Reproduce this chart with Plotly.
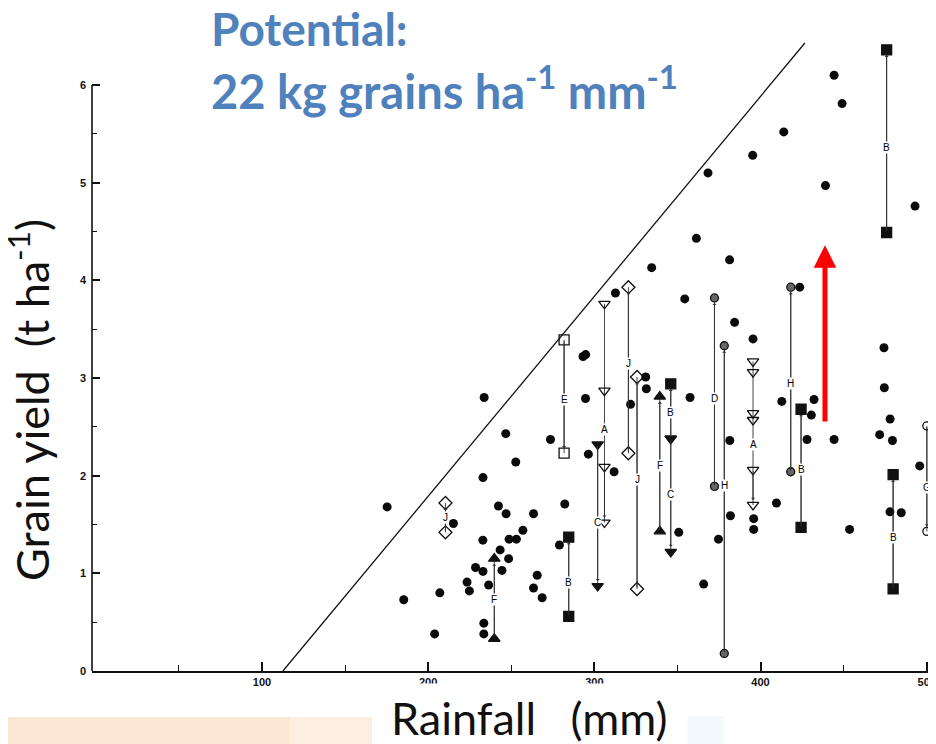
import plotly.graph_objects as go

# ---------------- data ----------------
# individual observations (filled dots): rainfall (mm), grain yield (t/ha)
dot_rain = [175.3, 185.3, 203.9, 207.0, 215.2, 223.4, 224.8, 228.5, 233.0, 232.9,
            233.0, 233.7, 233.5, 233.5, 236.4, 242.3, 243.3, 244.4, 246.9, 246.7,
            248.4, 248.7, 253.1, 252.7, 257.0, 263.4, 265.6, 263.4, 268.6, 273.6,
            279.0, 282.2, 293.2, 294.8, 294.7, 296.4, 311.9, 312.7, 321.8, 330.9,
            331.3, 334.5, 350.8, 354.4, 357.6, 361.4, 365.8, 368.4, 374.7, 381.5,
            381.9, 381.4, 384.4, 395.5, 395.3, 395.9, 395.9, 409.6, 412.8, 414.0,
            423.6, 428.0, 430.6, 432.2, 439.1, 444.3, 444.3, 449.1, 453.6, 471.7,
            474.3, 474.5, 478.0, 477.9, 479.4, 484.7, 493.0, 495.8]
dot_yield = [1.68, 0.73, 0.38, 0.80, 1.51, 0.91, 0.82, 1.06, 1.02, 1.34,
             1.98, 2.80, 0.49, 0.38, 0.88, 1.69, 1.24, 1.03, 1.61, 2.43,
             1.15, 1.35, 1.35, 2.14, 1.44, 1.61, 0.98, 0.85, 0.75, 2.37,
             1.29, 1.71, 3.22, 3.24, 2.79, 2.22, 2.04, 3.87, 2.73, 3.01,
             2.89, 4.13, 1.42, 3.81, 2.80, 4.43, 0.89, 5.10, 1.35, 2.36,
             1.59, 4.21, 3.57, 3.40, 5.28, 1.56, 1.45, 1.72, 2.76, 5.52,
             3.93, 2.37, 2.62, 2.78, 4.97, 2.37, 6.10, 5.81, 1.45, 2.42,
             3.31, 2.90, 2.58, 1.63, 2.36, 1.62, 4.76, 2.10]

# paired treatments (start -> end), letter codes
pair_letters = ["J", "F", "E", "B", "A", "C", "J", "J", "F", "B",
                "C", "D", "H", "A", "H", "B", "B", "B", "G"]
pair_rain = [210.4, 239.8, 281.8, 284.6, 306.1, 302.0, 320.5, 325.7, 339.4, 346.0,
             346.0, 372.3, 378.2, 395.5, 418.2, 424.4, 475.9, 479.8, 500.1]
pair_yields = [[1.42, 1.72], [0.33, 1.15], [3.39, 2.23], [0.56, 1.37],
               [3.76, 2.87, 2.09, 1.52], [2.32, 0.87], [2.23, 3.93], [0.84, 3.01],
               [1.43, 2.81], [2.38, 2.94], [2.38, 1.22], [1.89, 3.82], [0.18, 3.33],
               [3.17, 3.06, 2.64, 2.57, 2.06, 1.70], [2.04, 3.93], [1.47, 2.68],
               [4.49, 6.36], [0.84, 2.01], [2.51, 1.43]]
pair_symbols = [["diamond-open"] * 2, ["triangle-up"] * 2, ["square-open"] * 2,
                ["square"] * 2, ["triangle-down-open"] * 4, ["triangle-down"] * 2,
                ["diamond-open"] * 2, ["diamond-open"] * 2, ["triangle-up"] * 2,
                ["triangle-down", "square"], ["triangle-down"] * 2, ["circle"] * 2,
                ["circle"] * 2, ["triangle-down-open"] * 6, ["circle"] * 2,
                ["square"] * 2, ["square"] * 2, ["square"] * 2, ["circle-open"] * 2]
pair_label_y = [1.57, 0.73, 2.78, 0.91, 2.47, 1.52, 3.15, 1.96, 2.10, 2.65,
                1.81, 2.79, 1.90, 2.32, 2.94, 2.06, 5.36, 1.37, 1.88]

# potential (boundary) line
boundary_rain = [112.6, 426.7]
boundary_yield = [0.0, 6.43]

# red arrow
arrow_rain = 438.8
arrow_from = 2.54
arrow_to = 4.36

x_ticks = [100, 200, 300, 400, 500]
x_minor = [50, 150, 250, 350, 450]
y_ticks = [0, 1, 2, 3, 4, 5, 6]
y_minor = [0.5, 1.5, 2.5, 3.5, 4.5, 5.5]

title_line1 = "Potential:"
title_line2 = "22 kg grains ha<sup>-1</sup> mm<sup>-1</sup>"
y_title = "Grain yield\u00a0 (t ha<sup>-1</sup>)"
x_title = "Rainfall\u00a0\u00a0 (mm)"

# ---------------- figure ----------------
# the page draws the figure 8 px in from the top-left corner of the window
OFF = 8
W, H = 936 - OFF, 744 - OFF
L, R, T, B = 92 - OFF, 4, 10 - OFF, 73
pw, ph = W - L - R, H - T - B


def px(xp):
    """window pixel x -> paper x"""
    return (xp - OFF - L) / pw


def py(yp):
    """window pixel y -> paper y"""
    return (H - B - (yp - OFF)) / ph


fig = go.Figure()

# boundary line
fig.add_trace(go.Scatter(x=boundary_rain, y=boundary_yield, mode="lines",
                         line=dict(color="#111", width=1.3), hoverinfo="skip"))

# paired treatment lines + markers
annotations = []
for letter, xr, ys, syms, ly in zip(pair_letters, pair_rain, pair_yields,
                                     pair_symbols, pair_label_y):
    is_half = letter in ("D", "H")
    is_circ = letter in ("D", "H", "G")
    fig.add_trace(go.Scatter(
        x=[xr] * len(ys), y=ys, mode="lines+markers",
        line=dict(color="#444", width=1),
        marker=dict(symbol=syms, size=8 if is_circ else 10,
                    color="#666" if is_half else "#111",
                    line=dict(color="#111", width=1.3)),
        hoverinfo="skip"))
    annotations.append(dict(
        x=xr, y=ys[-1], ax=xr, ay=ys[-2], xref="x", yref="y",
        axref="x", ayref="y", showarrow=True, arrowhead=1, arrowsize=0.7,
        arrowwidth=1, arrowcolor="#333", standoff=5, text=""))
    annotations.append(dict(
        x=xr, y=ly, xref="x", yref="y", text=letter, showarrow=False,
        font=dict(family="Liberation Sans", size=10, color="black"),
        bgcolor="white", borderpad=0))

# filled dots
fig.add_trace(go.Scatter(x=dot_rain, y=dot_yield, mode="markers",
                         marker=dict(symbol="circle", size=9, color="#0a0a0a"),
                         hoverinfo="skip"))

# red arrow
annotations.append(dict(
    x=arrow_rain, y=arrow_to, ax=arrow_rain, ay=arrow_from, xref="x", yref="y",
    axref="x", ayref="y", showarrow=True, arrowhead=2, arrowsize=0.9,
    arrowwidth=5, arrowcolor="#FF0000", text=""))

slide_font = "Lato"
annotations += [
    # white text box of the x title, hiding the lower part of two tick labels
    dict(x=px(372), y=py(683), xref="paper", yref="paper", xanchor="left",
         yanchor="top", text=" ", showarrow=False, width=314, height=61,
         bgcolor="white", borderpad=0),
    dict(x=px(209), y=py(28), xref="paper", yref="paper", xanchor="left",
         yanchor="middle", text=f"<b>{title_line1}</b>", showarrow=False,
         font=dict(family=slide_font, size=46, color="#4F81BD")),
    dict(x=px(209), y=py(88), xref="paper", yref="paper", xanchor="left",
         yanchor="middle", text=f"<b>{title_line2}</b>", showarrow=False,
         font=dict(family=slide_font, size=47, color="#4F81BD")),
    dict(x=px(29), y=py(400), xref="paper", yref="paper", xanchor="center",
         yanchor="middle", text=y_title, textangle=-90, showarrow=False,
         font=dict(family=slide_font, size=45, color="#111")),
    dict(x=px(529), y=py(718), xref="paper", yref="paper", xanchor="center",
         yanchor="middle", text=x_title, showarrow=False,
         font=dict(family=slide_font, size=45, color="#111")),
]

shapes = [
    # y axis line up to 6
    dict(type="line", xref="paper", yref="y", x0=0, x1=0, y0=0, y1=6,
         line=dict(color="#111", width=1.6)),
    # peach slide decoration bottom-left
    dict(type="rect", xref="paper", yref="paper", x0=px(0), x1=px(290),
         y0=py(744), y1=py(717), fillcolor="#FDE9D3", line=dict(width=0),
         layer="below"),
    dict(type="rect", xref="paper", yref="paper", x0=px(290), x1=px(372),
         y0=py(744), y1=py(717), fillcolor="#FCEFE2", line=dict(width=0),
         layer="below"),
    dict(type="rect", xref="paper", yref="paper", x0=px(686), x1=px(724),
         y0=py(744), y1=py(716), fillcolor="#F3F8FD", line=dict(width=0),
         layer="below"),
]

fig.update_layout(
    width=W, height=H, margin=dict(l=L, r=R, t=T, b=B, autoexpand=False),
    paper_bgcolor="white", plot_bgcolor="white", showlegend=False,
    annotations=annotations, shapes=shapes,
    xaxis=dict(range=[-2.3, 503.2], tickvals=x_ticks, ticks="inside",
               automargin=False,
               ticklen=9, tickwidth=1.5, tickcolor="#111",
               showline=True, linecolor="#111", linewidth=1.6,
               showgrid=False, zeroline=False,
               tickfont=dict(family="Liberation Sans", size=11, color="#111",
                             weight="bold"),
               minor=dict(tickvals=x_minor, ticks="inside", ticklen=6,
                          tickwidth=1, tickcolor="#111")),
    yaxis=dict(range=[0, 6.768], tickvals=y_ticks, ticks="inside",
               automargin=False, ticklabelstandoff=5,
               ticklen=8, tickwidth=1.5, tickcolor="#111",
               showline=False, showgrid=False, zeroline=False,
               tickfont=dict(family="Liberation Sans", size=11, color="#111",
                             weight="bold"),
               minor=dict(tickvals=y_minor, ticks="inside", ticklen=5,
                          tickwidth=1, tickcolor="#111")),
)

fig.write_html("out.html")
